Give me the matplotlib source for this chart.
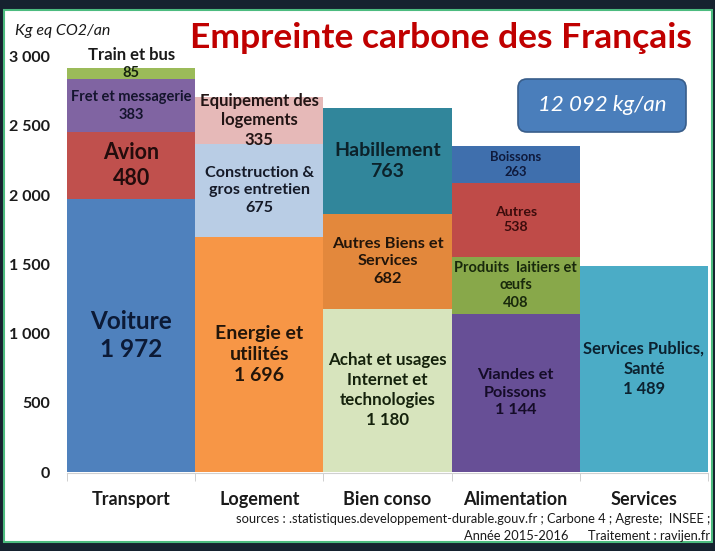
import numpy as np
import matplotlib.pyplot as plt
from matplotlib.patches import Rectangle, FancyBboxPatch

plt.rcParams['font.family'] = ['Lato', 'DejaVu Sans']

# donnees (kg eq CO2 / an)
categories = ['Transport', 'Logement', 'Bien conso', 'Alimentation', 'Services']

transport_labels = ['Voiture', 'Avion', 'Fret et messagerie', 'Train et bus']
transport_values = [1972, 480, 383, 85]
logement_labels = ['Energie et\nutilités', 'Construction &\ngros entretien', 'Equipement des\nlogements']
logement_values = [1696, 675, 335]
bien_labels = ['Achat et usages\nInternet et\ntechnologies', 'Autres Biens et\nServices', 'Habillement']
bien_values = [1180, 682, 763]
alim_labels = ['Viandes et\nPoissons', 'Produits  laitiers et\nœufs', 'Autres', 'Boissons']
alim_values = [1144, 408, 538, 263]
services_labels = ['Services Publics,\nSanté']
services_values = [1489]

total_label = '12 092 kg/an'
yticks = [0, 500, 1000, 1500, 2000, 2500, 3000]
ytick_labels = ['0', '500', '1 000', '1 500', '2 000', '2 500', '3 000']

# styles : couleurs, tailles de police, couleurs de texte
colors = [
    ['#4F81BD', '#C0504D', '#8064A2', '#9BBB59'],
    ['#F79646', '#B9CDE5', '#E6B9B8'],
    ['#D7E4BD', '#E3883C', '#31869B'],
    ['#674F96', '#88A84A', '#BF4B48', '#3F6FAD'],
    ['#4BACC6'],
]
sizes = [
    [17.5, 15.5, 10.5, 10.5],
    [14, 11.6, 12],
    [12.2, 11.8, 14],
    [11.7, 10.5, 10.2, 9.4],
    [11.9],
]
txtcol = [
    ['#0c1a36', '#230c0c', '#15152e', '#15220c'],
    ['#22150a', '#151a28', '#221515'],
    ['#15220c', '#22150a', '#0c222a'],
    ['#150c28', '#19290c', '#3c0c0c', '#0f1a3c'],
    ['#0c2230'],
]
all_labels = [transport_labels, logement_labels, bien_labels, alim_labels, services_labels]
all_values = [transport_values, logement_values, bien_values, alim_values, services_values]

def fmt(v):
    return '{:,}'.format(v).replace(',', ' ')

fig = plt.figure(figsize=(7.15, 5.51), dpi=100)
fig.patch.set_facecolor('#16222f')
fig.patches.append(Rectangle((4/715, 1-542/551), 708/715, 532/551, transform=fig.transFigure,
                             facecolor='white', edgecolor='#4cbb7f', linewidth=1.5, zorder=-5))

ax = fig.add_axes([67/715, 1-472/551, 641/715, 415.5/551])
ax.set_facecolor('none')
ax.set_zorder(2)

for i in range(len(categories)):
    bottom = 0
    for j in range(len(all_values[i])):
        v = all_values[i][j]
        ax.bar(i, v, width=1.0, bottom=bottom, color=colors[i][j], edgecolor='none')
        lab = all_labels[i][j]
        if lab == 'Train et bus':
            ax.text(i, bottom + v/2, fmt(v), ha='center', va='center', fontsize=sizes[i][j],
                    fontweight='bold', color=txtcol[i][j])
            ax.text(i, 3010, lab, ha='center', va='center', fontsize=12,
                    fontweight='bold', color='#1a1a1a', clip_on=False)
        else:
            ax.text(i, bottom + v/2, lab + '\n' + fmt(v), ha='center', va='center',
                    fontsize=sizes[i][j], fontweight='bold', color=txtcol[i][j],
                    linespacing=1.3)
        bottom += v

# spines d'abord (set_position remet les ticks a zero)
for s in ['left', 'right', 'top']:
    ax.spines[s].set_visible(False)
ax.spines['bottom'].set_color('#d0d0d0')
ax.spines['bottom'].set_position(('outward', 1))

ax.set_xlim(-0.5, len(categories) - 0.5)
ax.set_ylim(0, 3000)
ax.set_yticks(yticks)
ax.tick_params(axis='y', length=0, pad=12)
ax.set_xticks(range(len(categories)))
ax.tick_params(axis='x', which='major', length=0, pad=13)
ax.set_xticks(np.arange(-0.5, len(categories)), minor=True)
ax.tick_params(axis='x', which='minor', length=6, color='#c8c8c8')
ax.set_yticklabels(ytick_labels, fontsize=11.5, fontweight='bold', color='#1a1a1a')
ax.set_xticklabels(categories, fontsize=13, fontweight='bold', color='#1a1a1a')

fig.text(15/715, 1-31/551, 'Kg eq CO2/an', fontsize=11.5, style='italic', color='#1a1a1a', va='center')
fig.text(441/715, 1-38/551, 'Empreinte carbone des Français', fontsize=25.5, fontweight='bold',
         color='#c00000', ha='center', va='center')

box = FancyBboxPatch((5.18, 4.19), 1.68, 0.53, boxstyle='round,pad=0,rounding_size=0.09',
                     transform=fig.dpi_scale_trans, facecolor='#4a7ebb', edgecolor='#385d8a', linewidth=1.2)
fig.patches.append(box)
fig.text(602/715, 1-105/551, total_label, fontsize=16, style='italic', color='white',
         ha='center', va='center')

fig.text(710/715, 1-519/551, 'sources : .statistiques.developpement-durable.gouv.fr ; Carbone 4 ; Agreste;  INSEE ;',
         fontsize=9.3, ha='right', va='center', color='#1a1a1a')
fig.text(710/715, 1-536/551, 'Année 2015-2016      Traitement : ravijen.fr',
         fontsize=9.3, ha='right', va='center', color='#1a1a1a')

fig.savefig('out.png', dpi=100, facecolor=fig.get_facecolor())
